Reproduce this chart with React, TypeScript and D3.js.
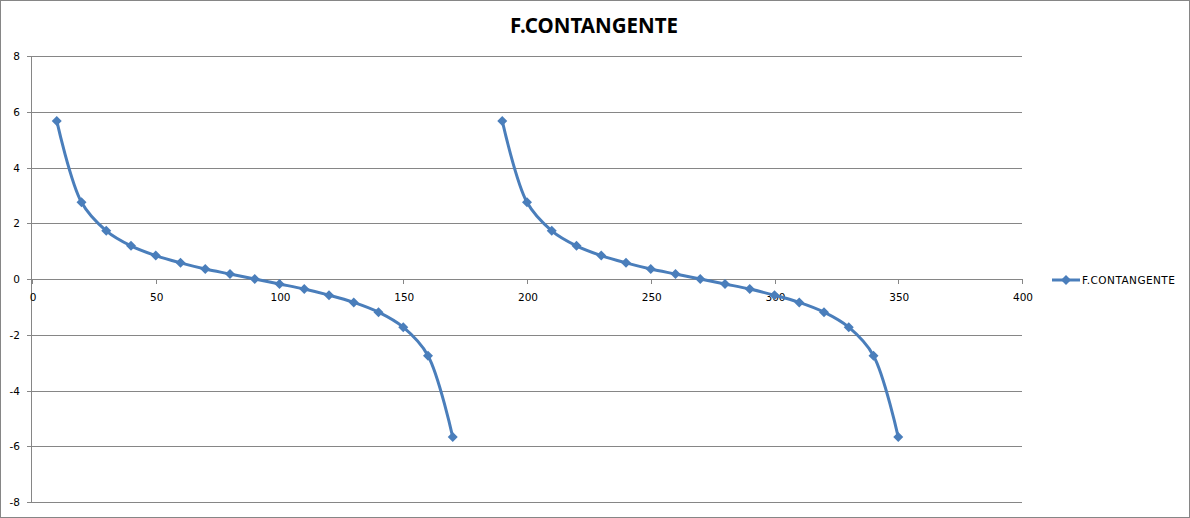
import React from "react";
import * as d3 from "d3";

const W = 1190;
const H = 518;

const title = "F.CONTANGENTE";
const seriesName = "F.CONTANGENTE";

const anglesA = [10, 20, 30, 40, 50, 60, 70, 80, 90, 100, 110, 120, 130, 140, 150, 160, 170];
const anglesB = [190, 200, 210, 220, 230, 240, 250, 260, 270, 280, 290, 300, 310, 320, 330, 340, 350];
const valuesA = [5.67, 2.75, 1.73, 1.19, 0.84, 0.58, 0.36, 0.18, 0, -0.18, -0.36, -0.58, -0.84, -1.19, -1.73, -2.75, -5.67];
const valuesB = [5.67, 2.75, 1.73, 1.19, 0.84, 0.58, 0.36, 0.18, 0, -0.18, -0.36, -0.58, -0.84, -1.19, -1.73, -2.75, -5.67];

const xTicks = [0, 50, 100, 150, 200, 250, 300, 350, 400];
const yTicks = [-8, -6, -4, -2, 0, 2, 4, 6, 8];

const segments = [
  anglesA.map((x, i) => ({ x, y: valuesA[i] })),
  anglesB.map((x, i) => ({ x, y: valuesB[i] })),
];

const color = "#4A7EBB";
const gridColor = "#868686";
const font = "'DejaVu Sans', Verdana, sans-serif";

function diamond(cx: number, cy: number, r: number) {
  return `M${cx},${cy - r}L${cx + r},${cy}L${cx},${cy + r}L${cx - r},${cy}Z`;
}

export default function App() {
  const x = d3.scaleLinear().domain([0, 400]).range([32, 1022]);
  const y = d3.scaleLinear().domain([-8, 8]).range([502, 56]);
  const line = d3
    .line<{ x: number; y: number }>()
    .x((d) => x(d.x))
    .y((d) => y(d.y))
    .curve(d3.curveCatmullRom.alpha(0.5));

  return (
    <svg
      width={W}
      height={H}
      style={{ position: "absolute", left: 0, top: 0, background: "#fff" }}
    >
      <rect x={0.5} y={0.5} width={W - 1} height={H - 1} fill="#fff" stroke={gridColor} strokeWidth={1} />
      <text
        x={594}
        y={33}
        textAnchor="middle"
        fontFamily="'Noto Sans', 'Open Sans', sans-serif"
        fontWeight="bold"
        fontSize={20.5}
        fill="#000"
      >
        {title}
      </text>
      {yTicks.map((t) => (
        <g key={"y" + t}>
          <line x1={31} x2={x(400)} y1={Math.round(y(t)) + 0.5} y2={Math.round(y(t)) + 0.5} stroke={gridColor} strokeWidth={1} />
          <line x1={27} x2={31} y1={Math.round(y(t)) + 0.5} y2={Math.round(y(t)) + 0.5} stroke={gridColor} strokeWidth={1} />
          <text x={20} y={y(t) + 4} textAnchor="end" fontFamily={font} fontSize={10.5} fill="#000">
            {t}
          </text>
        </g>
      ))}
      <line x1={31.5} x2={31.5} y1={y(8)} y2={y(-8)} stroke={gridColor} strokeWidth={1} />
      {xTicks.map((t) => (
        <g key={"x" + t}>
          <line x1={Math.round(x(t)) + 0.5} x2={Math.round(x(t)) + 0.5} y1={y(0)} y2={y(0) + 5} stroke={gridColor} strokeWidth={1} />
          <text x={x(t) + 1} y={y(0) + 22} textAnchor="middle" fontFamily={font} fontSize={10.5} fill="#000">
            {t}
          </text>
        </g>
      ))}
      {segments.map((seg, i) => (
        <g key={"s" + i}>
          <path d={line(seg) || ""} fill="none" stroke={color} strokeWidth={3} strokeLinejoin="round" />
          {seg.map((d, j) => (
            <path key={j} d={diamond(x(d.x), y(d.y), 5)} fill={color} />
          ))}
        </g>
      ))}
      <g>
        <line x1={1052} x2={1080} y1={280} y2={280} stroke={color} strokeWidth={3} />
        <path d={diamond(1066, 280, 5)} fill={color} />
        <text x={1082} y={284} fontFamily={font} fontSize={10.5} letterSpacing={0.45} fill="#000">
          {seriesName}
        </text>
      </g>
    </svg>
  );
}
